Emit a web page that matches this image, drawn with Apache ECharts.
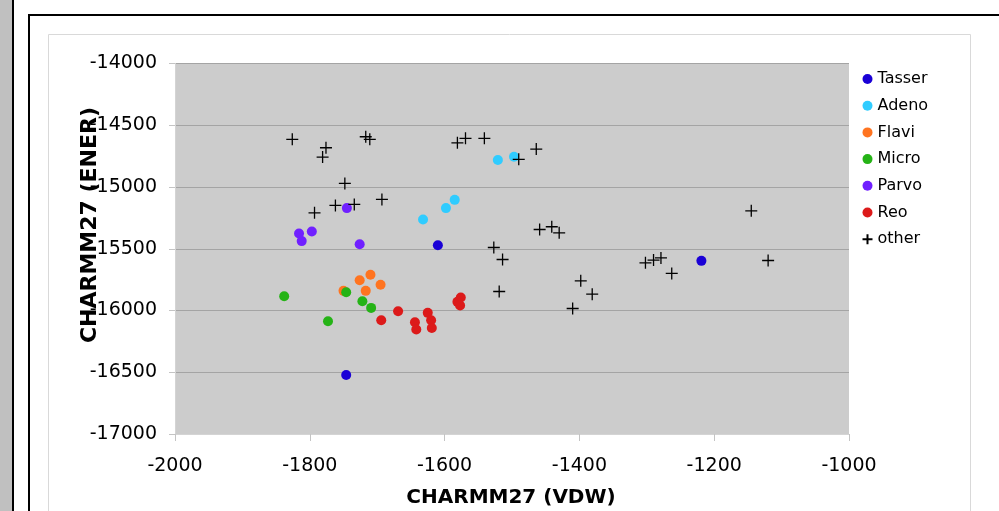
<!DOCTYPE html>
<html>
<head>
<meta charset="utf-8">
<script src="https://cdn.jsdelivr.net/npm/echarts@6/dist/echarts.min.js"></script>
<style>
  html, body { margin: 0; padding: 0; background: #fff; }
  #chart { width: 999px; height: 511px; }
</style>
</head>
<body>
<div id="chart"></div>
<script>
// values: [VDW, ENER]
const tasser = [[-1746, -16522], [-1610, -15471], [-1219, -15598]];
const adeno = [[-1521, -14782], [-1497, -14755], [-1585, -15104], [-1598, -15171], [-1632, -15263]];
const flavi = [[-1726, -15755], [-1710, -15711], [-1695, -15792], [-1717, -15841], [-1750, -15841]];
const micro = [[-1838, -15884], [-1746, -15852], [-1722, -15925], [-1709, -15979], [-1773, -16087]];
const parvo = [[-1745, -15171], [-1816, -15376], [-1797, -15360], [-1812, -15438], [-1726, -15463]];
const reo = [[-1669, -16006], [-1694, -16079], [-1644, -16095], [-1642, -16154], [-1625, -16019],
  [-1620, -16079], [-1619, -16141], [-1576, -15895], [-1581, -15930], [-1577, -15959]];
const other = [[-1826, -14614], [-1776, -14682], [-1781, -14758], [-1717, -14593], [-1711, -14614],
  [-1581, -14642], [-1569, -14606], [-1541, -14606], [-1748, -14971], [-1693, -15101],
  [-1762, -15149], [-1734, -15141], [-1793, -15209], [-1527, -15490], [-1490, -14776],
  [-1464, -14693], [-1145, -15193], [-1459, -15344], [-1441, -15322], [-1430, -15371],
  [-1514, -15587], [-1519, -15846], [-1398, -15760], [-1381, -15868], [-1410, -15984],
  [-1302, -15614], [-1290, -15592], [-1279, -15574], [-1263, -15700], [-1120, -15595]];

const groups = ['Tasser', 'Adeno', 'Flavi', 'Micro', 'Parvo', 'Reo'];
const groupData = [tasser, adeno, flavi, micro, parvo, reo];
const colors = ['#1a00d6', '#30ccff', '#ff7420', '#25b316', '#7020ff', '#dc1a1a'];

const font = 'DejaVu Sans, Verdana, sans-serif';
const chart = echarts.init(document.getElementById('chart'));

const series = groups.map((name, i) => ({
  name: name,
  type: 'scatter',
  data: groupData[i],
  symbol: 'circle',
  symbolSize: 10,
  itemStyle: { color: colors[i], opacity: 1 }
}));
series.push({
  name: 'other',
  type: 'scatter',
  data: other,
  symbol: 'path://M0,6L12,6M6,0L6,12',
  symbolSize: 12,
  itemStyle: { color: 'none', borderColor: '#000', borderWidth: 1.3, opacity: 1 }
});

chart.setOption({
  animation: false,
  textStyle: { fontFamily: font },
  graphic: [
    // page frame bits
    { type: 'rect', shape: { x: 0, y: 0, width: 12, height: 511 }, style: { fill: '#c0c0c0' }, z: -10 },
    { type: 'rect', shape: { x: 12, y: 0, width: 2, height: 511 }, style: { fill: '#000' }, z: -10 },
    { type: 'rect', shape: { x: 28, y: 14, width: 971, height: 2 }, style: { fill: '#000' }, z: -10 },
    { type: 'rect', shape: { x: 28, y: 14, width: 2, height: 497 }, style: { fill: '#000' }, z: -10 },
    { type: 'rect', shape: { x: 48.5, y: 34.5, width: 922, height: 490 },
      style: { fill: 'none', stroke: '#d9d9d9', lineWidth: 1 }, z: -10 },
    // axis titles
    { type: 'text', style: {
        text: 'CHARMM27 (VDW)', x: 511, y: 498, align: 'center', verticalAlign: 'middle',
        font: 'bold 20px ' + font, fill: '#000' } },
    { type: 'text', x: 90, y: 225, rotation: Math.PI / 2, style: {
        text: 'CHARMM27 (ENER)', x: 0, y: 0, align: 'center', verticalAlign: 'middle',
        font: 'bold 22px ' + font, fill: '#000' } }
  ],
  legend: {
    orient: 'vertical',
    left: 860,
    top: 71,
    padding: 0,
    itemWidth: 10,
    itemHeight: 10,
    itemGap: 10.7,
    textStyle: { fontSize: 16, color: '#000', fontFamily: font },
    data: groups.concat(['other'])
  },
  grid: {
    left: 175, top: 63.5, right: 150, bottom: 77,
    show: true, backgroundColor: '#cccccc', borderWidth: 0
  },
  xAxis: {
    type: 'value', min: -2000, max: -1000, interval: 200,
    axisLine: { show: true, onZero: false, lineStyle: { color: '#d4d4d4', width: 1 } },
    axisTick: { show: true, length: 7, lineStyle: { color: '#c4c4c4' } },
    axisLabel: { fontSize: 19, color: '#000', margin: 23, fontFamily: font, formatter: v => String(v) },
    splitLine: { show: false }
  },
  yAxis: {
    type: 'value', min: -17000, max: -14000, interval: 500,
    axisLine: { show: true, onZero: false, lineStyle: { color: '#d4d4d4', width: 1 } },
    axisTick: { show: true, length: 6, lineStyle: { color: '#c4c4c4' } },
    axisLabel: { fontSize: 19, color: '#000', margin: 18, fontFamily: font, formatter: v => String(v) },
    splitLine: { show: true, lineStyle: { color: '#a4a4a4', width: 1 } }
  },
  series: series
});
</script>
</body>
</html>
